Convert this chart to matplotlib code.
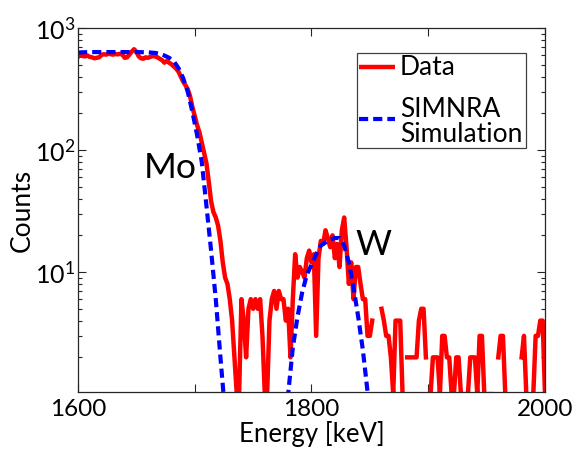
"""RBS spectrum: measured counts against the SIMNRA simulation (Mo edge, W peak)."""

from __future__ import annotations

import matplotlib

matplotlib.use("Agg")
import matplotlib.pyplot as plt
import numpy as np
from matplotlib.patches import Rectangle
from matplotlib.ticker import LogLocator, MultipleLocator, NullFormatter, FixedLocator

FONT = ["Lato", "DejaVu Sans"]

# measured spectrum, one value per 2 keV channel, 1600 .. 2000 keV
CHANNEL_START = 1600
CHANNEL_WIDTH = 2
DATA_COUNTS = [
    580, 600, 590, 585, 595, 580, 575, 565, 570, 575,   # 1600
    600, 610, 605, 615, 610, 605, 612, 608, 615, 605,   # 1620
    570, 575, 605, 640, 670, 640, 585, 565, 560, 575,   # 1640
    570, 580, 590, 585, 575, 560, 545, 520, 535, 520,   # 1660
    505, 485, 465, 440, 400, 365, 340, 315, 275, 225,   # 1680
    190, 160, 140, 115, 95, 78, 55, 38, 31, 28,         # 1700
    24, 18, 12, 9, 8, 6, 4, 2, 1, 1,                    # 1720
    6, 4, 2, 5, 6, 5, 6, 5, 6, 3,                       # 1740
    1, 1, 4, 6, 7, 5, 7, 6, 6, 4,                       # 1760
    5, 2, 6, 14, 9, 11, 10, 9, 13, 15,                  # 1780
    12, 14, 3, 13, 18, 17, 22, 19, 16, 20,              # 1800
    13, 17, 11, 22, 28, 16, 8, 12, 6, 11,               # 1820
    11, 8, 6, 6, 3, 3, 4, 0, 2, 0,                      # 1840
    5, 4, 3, 3, 2, 1, 4, 4, 4, 1,                       # 1860
    0, 2, 2, 2, 2, 2, 4, 5, 5, 2,                       # 1880
    0, 1, 2, 2, 2, 1, 3, 3, 2, 2,                       # 1900
    1, 1, 2, 2, 1, 1, 1, 1, 2, 2,                       # 1920
    2, 1, 3, 3, 1, 1, 1, 1, 0, 0,                       # 1940
    2, 3, 3, 1, 0, 0, 0, 2, 0, 0,                       # 1960
    2, 3, 1, 0, 0, 1, 3, 3, 4, 4,                       # 1980
    1,                                                  # 2000
]

# SIMNRA simulation, Mo surface edge
SIM_MO_ENERGY = [1600, 1610, 1620, 1630, 1640, 1650, 1660, 1666, 1670, 1674,
                 1678, 1682, 1686, 1690, 1694, 1698, 1702, 1706, 1710, 1714,
                 1718, 1722, 1726]
SIM_MO_COUNTS = [630, 635, 635, 635, 635, 635, 632, 625, 615, 595,
                 570, 535, 470, 390, 300, 205, 133, 80, 35, 15,
                 6, 2, 0.7]

# SIMNRA simulation, W peak
SIM_W_ENERGY = [1778, 1780, 1784, 1788, 1792, 1796, 1800, 1804, 1808, 1812,
                1816, 1820, 1824, 1828, 1832, 1836, 1840, 1844, 1848, 1850]
SIM_W_COUNTS = [0.7, 1.0, 2.4, 4.3, 6.8, 9.5, 11.5, 14, 16.5, 17.5,
                18.5, 19, 19, 16.5, 12, 7.5, 4.3, 2.3, 1.05, 0.7]

X_TICKS = [1600, 1800, 2000]
LEGEND_LABELS = ["Data", "SIMNRA", "Simulation"]

RED = "#ff0000"
BLUE = "#0000ff"
DASH = (0, (2.2, 1.2))


def draw_legend(ax) -> None:
    # hand-built box so the two-line label keeps the tight spacing of the original
    tr = ax.transAxes
    ax.add_patch(Rectangle((0.5974, 0.6703), 0.3619, 0.2610, transform=tr,
                           facecolor="white", edgecolor="#404040", lw=0.9, zorder=5))
    ax.plot([0.6017, 0.6788], [0.8929, 0.8929], transform=tr, color=RED,
            lw=3.2, zorder=6, solid_capstyle="butt")
    ax.plot([0.6017, 0.6788], [0.7500, 0.7500], transform=tr, color=BLUE,
            lw=3.0, ls=DASH, zorder=6)
    for label, y in zip(LEGEND_LABELS, [0.8709, 0.7555, 0.6868]):
        ax.text(0.6895, y, label, transform=tr, fontsize=19, va="baseline",
                ha="left", zorder=6)


def main() -> int:
    plt.rcParams["font.family"] = FONT
    plt.rcParams["mathtext.fontset"] = "custom"
    plt.rcParams["mathtext.rm"] = "Lato"

    energy = CHANNEL_START + CHANNEL_WIDTH * np.arange(len(DATA_COUNTS))
    counts = np.array(DATA_COUNTS, dtype=float)
    counts[counts <= 0] = np.nan  # empty channels leave a gap on the log axis

    fig = plt.figure(figsize=(5.77, 4.51), dpi=100)
    ax = fig.add_axes([0.1352, 0.1308, 0.8093, 0.8071])

    ax.plot(energy, counts, color=RED, lw=3.2)
    ax.plot(SIM_MO_ENERGY, SIM_MO_COUNTS, color=BLUE, lw=3.0, ls=DASH)
    ax.plot(SIM_W_ENERGY, SIM_W_COUNTS, color=BLUE, lw=3.0, ls=DASH)

    ax.set_yscale("log")
    ax.set_xlim(1600, 2000)
    ax.set_ylim(1.04, 1000)

    ax.xaxis.set_major_locator(FixedLocator(X_TICKS))
    ax.xaxis.set_minor_locator(MultipleLocator(100))
    ax.yaxis.set_major_locator(LogLocator(base=10))
    ax.yaxis.set_minor_locator(LogLocator(base=10, subs=np.arange(2, 10)))
    ax.yaxis.set_minor_formatter(NullFormatter())

    ax.tick_params(which="both", direction="in", top=True, right=True,
                   colors="#262626", labelcolor="black", width=0.8)
    ax.tick_params(which="major", length=6, labelsize=18)
    ax.tick_params(axis="x", labelsize=17.5)
    ax.tick_params(which="minor", length=3)
    ax.tick_params(axis="x", which="minor", length=6)
    ax.tick_params(axis="x", pad=5)
    ax.tick_params(axis="y", pad=2)
    for spine in ax.spines.values():
        spine.set_color("#262626")
        spine.set_linewidth(0.9)

    ax.set_xlabel("Energy [keV]", fontsize=18.5, labelpad=1)
    ax.set_ylabel("Counts", fontsize=19, labelpad=0)

    ax.text(1679, 71, "Mo", fontsize=25.5, ha="center", va="center")
    ax.text(1853, 16.6, "W", fontsize=25, ha="center", va="center")

    draw_legend(ax)

    fig.savefig("out.png", dpi=100)
    plt.close(fig)
    return 0


if __name__ == "__main__":
    raise SystemExit(main())
